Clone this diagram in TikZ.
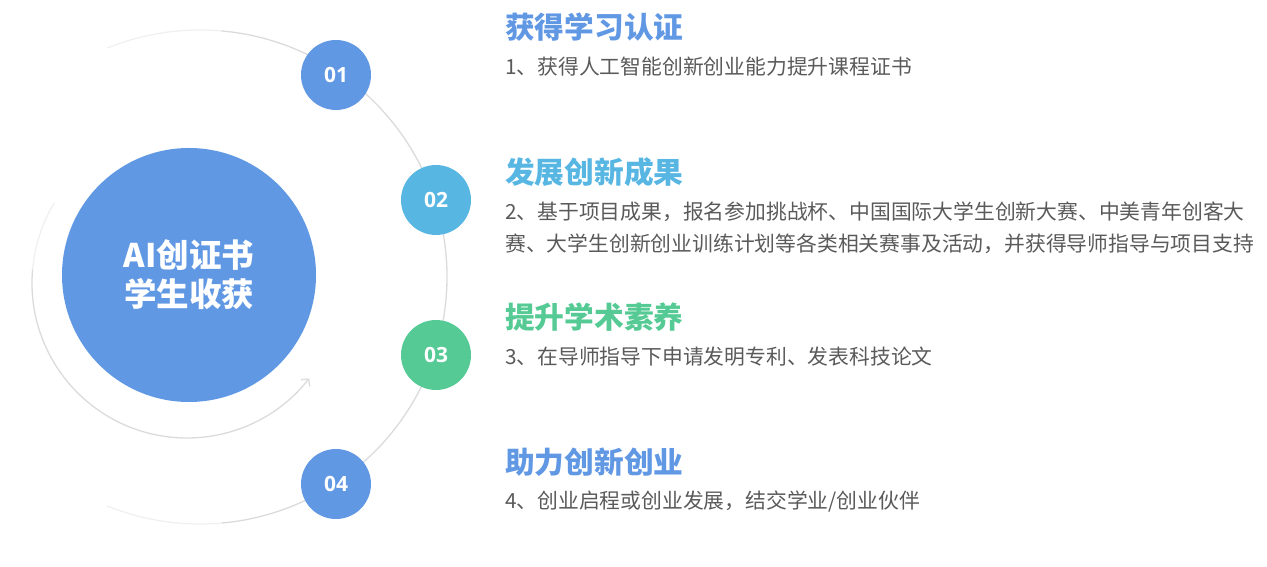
\documentclass[tikz,border=0pt]{standalone}
\usepackage{fontspec}
\setmainfont{Noto Sans CJK SC}
\newfontfamily\numfont{Open Sans}
\usetikzlibrary{positioning, arrows.meta}
\definecolor{blueA}{HTML}{6198E4}
\definecolor{blueB}{HTML}{58B6E3}
\definecolor{greenC}{HTML}{55CA94}
\definecolor{textgray}{HTML}{5A5A5A}
\tikzset{
>={Straight Barb[length=5pt, width=11pt]}, % thin open arrow tip
node distance=145pt, % spacing between the four headings
hub/.style={circle, fill=blueA, minimum size=254pt, inner sep=0pt, text=white, align=center, font=\fontsize{32.5}{39}\selectfont\bfseries}, % the big circle
num/.style={circle, minimum size=70pt, inner sep=0pt, text=white, font=\numfont\fontsize{21}{21}\selectfont\bfseries}, % the small numbered circles
heading/.style={inner sep=0pt, font=\fontsize{29.7}{34}\selectfont\bfseries}, % coloured titles
body/.style={inner sep=0pt, text=textgray, align=left, font=\fontsize{20.8}{32}\selectfont}, % grey description
ring/.style={line width=1.3pt, black!14}, % the light orbit lines
faint/.style={line width=1.3pt, black!6}, % faded ends of the orbit
}

\begin{document}
\begin{tikzpicture}[x=1pt, y=1pt]
        \useasboundingbox (0,0) rectangle (1267,567);
        \coordinate (orbit) at (200,290);
        \coordinate (loop) at (187,284);
        % outer orbit through the numbers
        \draw[faint] (orbit) ++(112:247) arc[start angle=112, end angle=85, radius=247];
        \draw[ring] (orbit) ++(85:247) arc[start angle=85, end angle=-85, radius=247];
        \draw[faint] (orbit) ++(-85:247) arc[start angle=-85, end angle=-112, radius=247];
        % inner arrow round the hub
        \draw[faint] (loop) ++(149:155) arc[start angle=149, end angle=175, radius=155];
        \draw[ring, ->] (loop) ++(175:155) arc[start angle=175, end angle=322, radius=155];
        \node[hub] (hub) at (189,292) {AI创证书\\学生收获};
        \node[num, fill=blueA] (n1) at (336,492) {01};
        \node[num, fill=blueB] (n2) at (436,367) {02};
        \node[num, fill=greenC] (n3) at (436,212) {03};
        \node[num, fill=blueA] (n4) at (336,83) {04};
        \node[heading, text=blueA, anchor=west] (h1) at (505,540) {获得学习认证};
        \node[heading, text=blueB, below=of h1.west, anchor=west] (h2) {发展创新成果};
        \node[heading, text=greenC, below=of h2.west, anchor=west] (h3) {提升学术素养};
        \node[heading, text=blueA, below=of h3.west, anchor=west] (h4) {助力创新创业};
        \node[body, below=40pt of h1.west, anchor=west] (b1) {1、获得人工智能创新创业能力提升课程证书};
        \node[body, below=56pt of h2.west, anchor=west] (b2) {2、基于项目成果，报名参加挑战杯、中国国际大学生创新大赛、中美青年创客大\\赛、大学生创新创业训练计划等各类相关赛事及活动，并获得导师指导与项目支持};
        \node[body, below=40pt of h3.west, anchor=west] (b3) {3、在导师指导下申请发明专利、发表科技论文};
        \node[body, below=40pt of h4.west, anchor=west] (b4) {4、创业启程或创业发展，结交学业/创业伙伴};
    \end{tikzpicture}
\end{document}
